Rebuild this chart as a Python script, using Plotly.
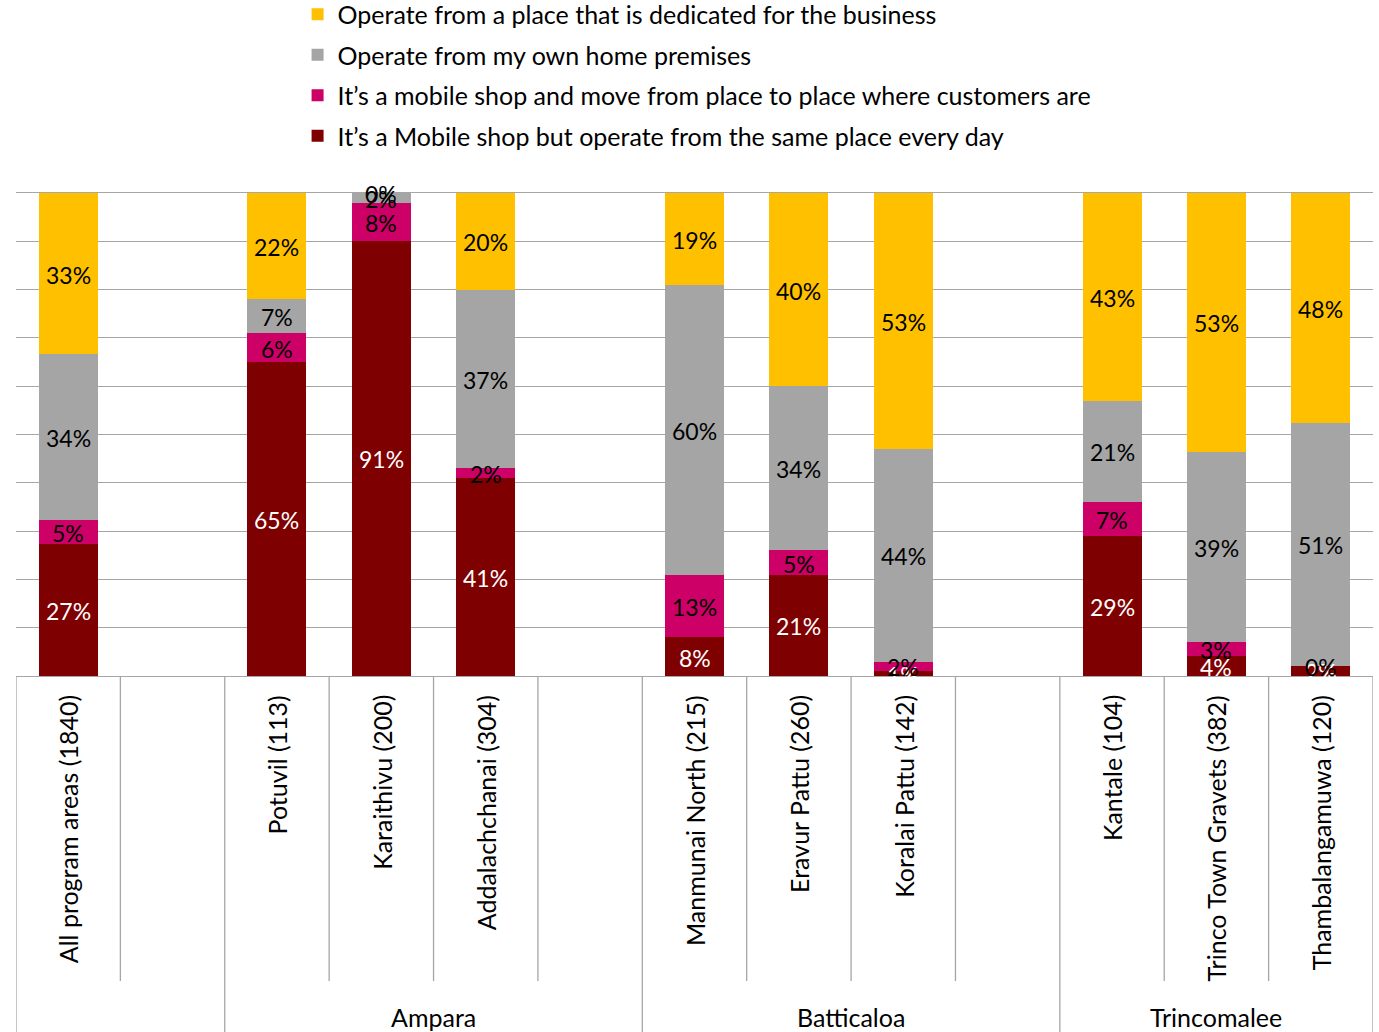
import plotly.graph_objects as go

# Areas along the x axis; "" marks an empty spacer slot
areas = ["All program areas (1840)", "",
         "Potuvil (113)", "Karaithivu (200)", "Addalachchanai (304)", "",
         "Manmunai North (215)", "Eravur Pattu (260)", "Koralai Pattu (142)", "",
         "Kantale (104)", "Trinco Town Gravets (382)", "Thambalangamuwa (120)"]

# District groups: (label, first slot, last slot)
districts = [("", 0, 1), ("Ampara", 2, 5), ("Batticaloa", 6, 9), ("Trincomalee", 10, 12)]

# Shares (%) per area, bottom segment first; None for spacer slots
mobile_same_place = [27, None, 65, 91, 41, None, 8, 21, 1, None, 29, 4, 2]
mobile_moving = [5, None, 6, 8, 2, None, 13, 5, 2, None, 7, 3, 0]
own_home = [34, None, 7, 2, 37, None, 60, 34, 44, None, 21, 39, 51]
dedicated_place = [33, None, 22, 0, 20, None, 19, 40, 53, None, 43, 53, 48]

series = [
    ("It\u2019s a Mobile shop but operate from the same place every day", mobile_same_place, "#7F0000", "white"),
    ("It\u2019s a mobile shop and move from place to place where customers are", mobile_moving, "#CC0066", "black"),
    ("Operate from my own home premises", own_home, "#A5A5A5", "black"),
    ("Operate from a place that is dedicated for the business", dedicated_place, "#FFC000", "black"),
]

FONT = "Lato"
LINE = "#A6A6A6"
slots = list(range(len(areas)))

fig = go.Figure()

# Stacked bars (normalised to 100% per area)
for i, (name, vals, color, _) in enumerate(series):
    fig.add_trace(go.Bar(
        x=slots, y=vals, name=name, marker_color=color, marker_line_width=0,
        width=0.565, legendgroup=f"g{i}", legendrank=len(series) - i,
        textposition="none", hoverinfo="skip",
    ))

# Value labels centred in each segment, drawn above all bars
totals = [sum(s[1][k] for s in series) if mobile_same_place[k] is not None else None
          for k in slots]
running = [0.0] * len(slots)
for name, vals, color, tcolor in series:
    for k in slots:
        v = vals[k]
        if v is None:
            continue
        fig.add_annotation(
            x=k, y=(running[k] + v / 2) / totals[k] * 100, xref="x", yref="y",
            text=f"{v}%", showarrow=False, xanchor="center", yanchor="middle",
            yshift=-1, font=dict(family=FONT, size=23, color=tcolor),
        )
        running[k] += v

# Category labels, rotated, hanging below the axis
for s, name in zip(slots, areas):
    if name:
        fig.add_annotation(x=s, y=0, xref="x", yref="paper", text=name,
                           textangle=-90, yanchor="top", xanchor="center",
                           yshift=-17, showarrow=False,
                           font=dict(family=FONT, size=25, color="black"))

# District labels centred under their slots
for label, a, b in districts:
    if label:
        fig.add_annotation(x=(a + b) / 2, y=-0.705, xref="x", yref="paper", text=label,
                           yanchor="middle", xanchor="center", showarrow=False,
                           font=dict(family=FONT, size=25, color="black"))

# Separator lines: short ones between areas, long ones between districts
group_edges = {d[1] - 0.5 for d in districts} | {districts[-1][2] + 0.5}
for k in range(len(areas) + 1):
    xe = k - 0.5
    y1 = -0.737 if xe in group_edges else -0.6315
    fig.add_shape(type="line", xref="x", yref="paper", x0=xe, x1=xe, y0=0, y1=y1,
                  line=dict(color=LINE, width=1.3))

fig.update_layout(
    width=1379, height=1032,
    margin=dict(l=16, r=6, t=193, b=356, autoexpand=False),
    barmode="stack", barnorm="percent",
    plot_bgcolor="white", paper_bgcolor="white",
    showlegend=True,
    legend=dict(x=0.2075, y=1.417, xanchor="left", yanchor="top",
                traceorder="grouped", tracegroupgap=5,
                font=dict(family=FONT, size=25, color="black"),
                bgcolor="rgba(0,0,0,0)", itemclick=False),
    xaxis=dict(range=[-0.5, 12.5], showticklabels=False, showgrid=False,
               zeroline=False, showline=True, linecolor=LINE, linewidth=1.3,
               mirror=True, fixedrange=True),
    yaxis=dict(range=[0, 100], dtick=10, showticklabels=False, showgrid=True,
               gridcolor=LINE, gridwidth=1.3, zeroline=False, showline=False,
               fixedrange=True),
)

fig.write_html("out.html")
